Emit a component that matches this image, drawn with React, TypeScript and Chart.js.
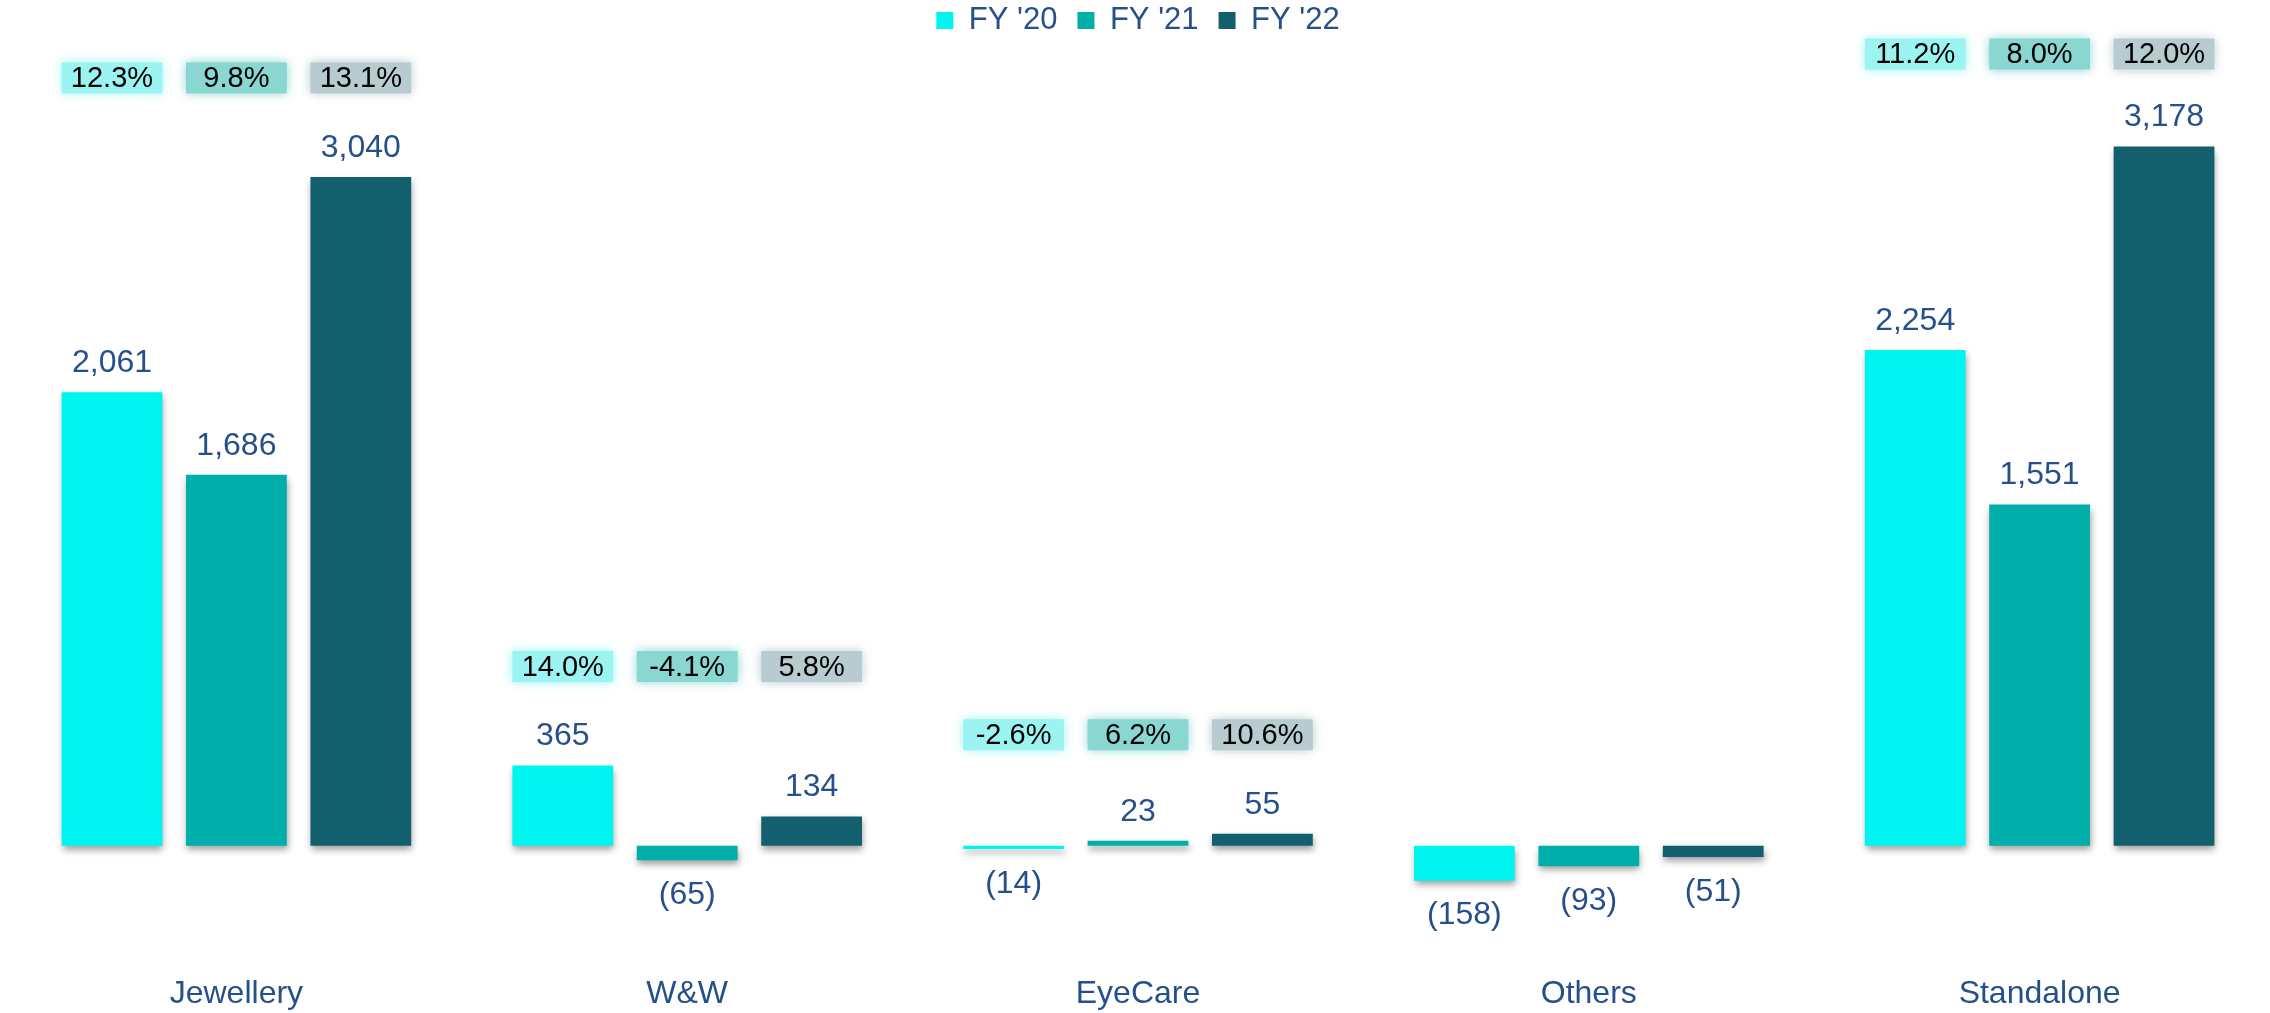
import React, { useEffect, useRef } from "react";
import { Chart, registerables } from "chart.js";

Chart.register(...registerables);

const categories = ["Jewellery", "W&W", "EyeCare", "Others", "Standalone"];
const seriesNames = ["FY '20", "FY '21", "FY '22"];
const fy20 = [2061, 365, -14, -158, 2254];
const fy21 = [1686, -65, 23, -93, 1551];
const fy22 = [3040, 134, 55, -51, 3178];
const margin20: (number | null)[] = [12.3, 14.0, -2.6, null, 11.2];
const margin21: (number | null)[] = [9.8, -4.1, 6.2, null, 8.0];
const margin22: (number | null)[] = [13.1, 5.8, 10.6, null, 12.0];

const seriesData = [fy20, fy21, fy22];
const margins = [margin20, margin21, margin22];

const barColors = ["#00F5F0", "#00AFAA", "#135F6E"];
const boxColors = ["#9CF4F2", "#8AD6D1", "#B8CBD0"];
const textBlue = "#25508A";
const FONT = "'Liberation Sans', Arial, sans-serif";

const fmt = (v: number) => v.toLocaleString("en-US");

const shadowPlugin = {
  id: "barShadow",
  beforeDatasetsDraw(chart: any) {
    const ctx = chart.ctx;
    ctx.save();
    ctx.shadowColor = "rgba(0,0,0,0.38)";
    ctx.shadowBlur = 7;
    ctx.shadowOffsetX = 1;
    ctx.shadowOffsetY = 4;
  },
  afterDatasetsDraw(chart: any) {
    chart.ctx.restore();
  },
};

const labelPlugin = {
  id: "valueLabels",
  afterDraw(chart: any) {
    const ctx = chart.ctx;
    const yScale = chart.scales.y;
    const metas = seriesData.map((_, i) => chart.getDatasetMeta(i));
    ctx.save();
    ctx.textAlign = "center";
    ctx.textBaseline = "middle";
    // value labels
    ctx.font = `32px ${FONT}`;
    ctx.fillStyle = textBlue;
    metas.forEach((meta: any, di: number) => {
      meta.data.forEach((bar: any, ci: number) => {
        const v = seriesData[di][ci];
        const txt = v < 0 ? `(${fmt(-v)})` : fmt(v);
        const y = v >= 0 ? bar.y - 29 : bar.y + 35;
        ctx.fillText(txt, bar.x, y);
      });
    });
    // margin boxes
    categories.forEach((_, ci) => {
      const groupMax = Math.max(0, ...seriesData.map((s) => s[ci]));
      const top = yScale.getPixelForValue(groupMax);
      const cy = Math.max(top - 99, 54);
      metas.forEach((meta: any, di: number) => {
        const m = margins[di][ci];
        if (m === null || m === undefined) return;
        const bar = meta.data[ci];
        const w = bar.width;
        ctx.save();
        ctx.shadowColor = boxColors[di];
        ctx.shadowBlur = 10;
        ctx.fillStyle = boxColors[di];
        ctx.fillRect(bar.x - w / 2, cy - 15.5, w, 31);
        ctx.restore();
        ctx.fillStyle = "#000000";
        ctx.font = `29px ${FONT}`;
        ctx.fillText(m.toFixed(1) + "%", bar.x, cy + 1);
      });
    });
    ctx.restore();
  },
};

export default function App() {
  const canvasRef = useRef<HTMLCanvasElement | null>(null);

  useEffect(() => {
    if (!canvasRef.current) return;
    const chart = new Chart(canvasRef.current, {
      type: "bar",
      data: {
        labels: categories,
        datasets: seriesData.map((d, i) => ({
          label: seriesNames[i],
          data: d,
          backgroundColor: barColors[i],
          borderWidth: 0,
          categoryPercentage: 0.828,
          barPercentage: 0.81,
        })),
      },
      options: {
        animation: false,
        responsive: true,
        maintainAspectRatio: false,
        layout: { padding: { top: -15, left: 11, right: 5, bottom: 0 } },
        plugins: {
          legend: {
            position: "top",
            labels: {
              font: { size: 31, family: FONT },
              color: textBlue,
              boxWidth: 17,
              boxHeight: 17,
              padding: 20,
            },
          },
          tooltip: { enabled: false },
        },
        scales: {
          x: {
            grid: { display: false, drawTicks: false },
            border: { display: false },
            ticks: { font: { size: 32, family: FONT }, color: textBlue, padding: 0 },
          },
          y: {
            min: -585,
            max: 3635,
            ticks: { display: false, stepSize: 1000 },
            border: { display: false },
            grid: {
              drawTicks: false,
              lineWidth: 2,
              color: (c: any) => (c.tick && c.tick.value === 0 ? "#D5E1F0" : "rgba(0,0,0,0)"),
            },
          },
        },
      },
      plugins: [shadowPlugin, labelPlugin],
    });
    return () => chart.destroy();
  }, []);

  return (
    <div style={{ position: "absolute", left: 0, top: 0, width: 2270, height: 1013, background: "#ffffff" }}>
      <canvas ref={canvasRef} style={{ display: "block" }} />
    </div>
  );
}
